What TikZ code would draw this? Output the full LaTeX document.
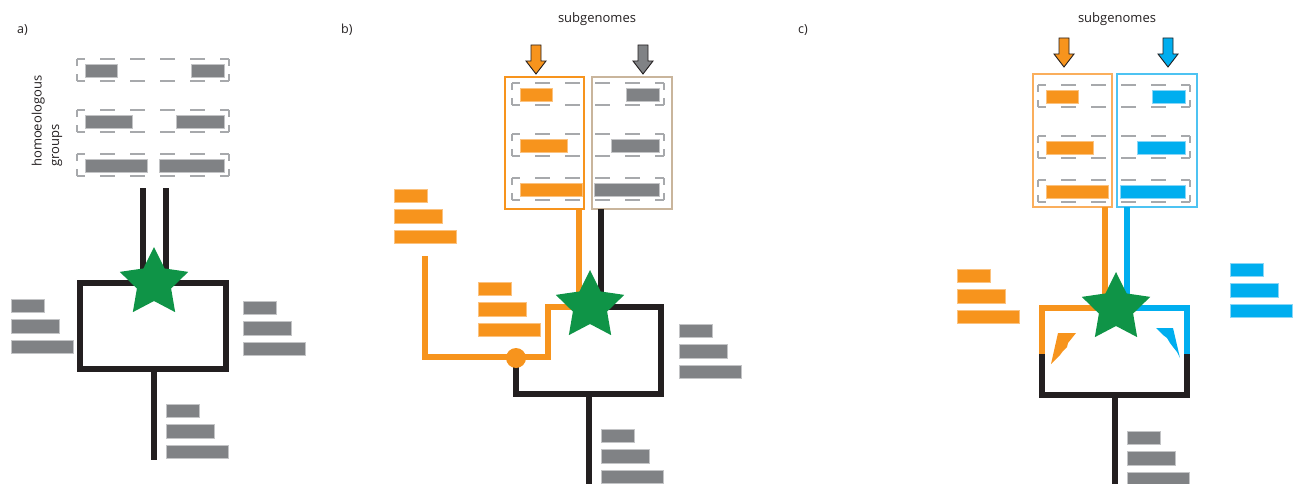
\documentclass[tikz,border=0pt]{standalone}
\usepackage{fontspec}
\setmainfont{Open Sans}
\usetikzlibrary{shapes.geometric}

\definecolor{ink}{HTML}{231F20}
\definecolor{chromgray}{HTML}{808285}
\definecolor{grayrim}{HTML}{C3C4C6}
\definecolor{sgorange}{HTML}{F7941D}
\definecolor{orangerim}{HTML}{FBC27F}
\definecolor{sgblue}{HTML}{00AEEF}
\definecolor{bluerim}{HTML}{8AD6F6}
\definecolor{wgdgreen}{HTML}{0F9447}
\definecolor{dashgray}{HTML}{A7A9AC}
\definecolor{framebrown}{HTML}{C9B59C}
\definecolor{frameorange}{HTML}{FAAE5C}
\definecolor{frameblue}{HTML}{4DC3F2}

\tikzset{
  lineage/.style={line width=6pt, line join=miter, line cap=butt},
  wgd/.style={star, star points=5, star point ratio=2.0, minimum size=72pt,
    inner sep=0pt, fill=wgdgreen, draw=none},
  hgdash/.style={dashgray, line width=1.3pt, dash pattern=on 15pt off 15pt, dash phase=7pt},
  hgarm/.style={dashgray, line width=1.3pt},
  sgframe/.style={line width=1.5pt},
  panellabel/.style={text=ink, inner sep=0pt, font=\fontsize{12.5}{15}\selectfont},
  caption/.style={text=ink, inner sep=0pt, font=\fontsize{13}{17.5}\selectfont},
}

% three stacked chromosome bars, top-left corner at (#1,#2)
\newcommand\barstack[4]{%
  \foreach \w [count=\k from 0] in {33,48,62}
    \filldraw[fill=#3, draw=#4, line width=0.8pt] (#1,{#2+20.5*\k}) rectangle ++(\w,13.5);}

% dashed frame of one homoeologous group
\newcommand\hgframe[2]{%
  \draw[hgdash] (#1,#2) -- ++(152,0);
  \draw[hgdash] (#1,{#2+22}) -- ++(152,0);
  \draw[hgarm] (#1,#2) -- ++(0,7) (#1,{#2+22}) -- ++(0,-7)
    ({#1+152},#2) -- ++(0,7) ({#1+152},{#2+22}) -- ++(0,-7);}

% three homoeologous groups, left and right copies
\newcommand\homoeoset[6]{%
  \foreach \dy/\wl/\wr in {0/32/33,51/47/48,95/62/65}{%
    \hgframe{#1}{#2+\dy}
    \filldraw[fill=#3, draw=#4, line width=.8pt] ({#1+8},{#2+\dy+5}) rectangle ++(\wl,13.5);
    \filldraw[fill=#5, draw=#6, line width=.8pt] ({#1+147},{#2+\dy+5}) rectangle ++(-\wr,13.5);}}

% downward block arrow marking a subgenome
\newcommand\sgarrow[3]{%
  \filldraw[fill=#3, draw=ink, line width=.9pt, line join=miter]
    ({#1-5},#2) -- ({#1+5},#2) -- ({#1+5},{#2+16}) -- ({#1+10},{#2+16})
    -- (#1,{#2+29}) -- ({#1-10},{#2+16}) -- ({#1-5},{#2+16}) -- cycle;}

\begin{document}
\begin{tikzpicture}[x=1pt,y=-1pt]
\useasboundingbox (0,0) rectangle (1295,484);

% ---------------- a) ----------------
\node[panellabel, anchor=base west] (lab-a) at (17,34) {a)};
\node[caption, rotate=90, align=left, anchor=west] (hg-text) at (47,167) {homoeologous\\groups};
\homoeoset{77}{59}{chromgray}{grayrim}{chromgray}{grayrim}

\coordinate (a-l1) at (143,188); \coordinate (a-l2) at (143,283);
\coordinate (a-r1) at (166,188); \coordinate (a-r2) at (166,283);
\coordinate (a-tl) at (80,283);  \coordinate (a-br) at (226,369);
\coordinate (a-root1) at (154,369); \coordinate (a-root2) at (154,460);
\draw[lineage, ink] (a-l1) -- (a-l2) (a-r1) -- (a-r2);
\draw[lineage, ink] (a-tl) rectangle (a-br);
\draw[lineage, ink] (a-root1) -- (a-root2);
\node[wgd] (a-star) at (154,283) {};

\barstack{11}{299}{chromgray}{grayrim}
\barstack{243}{301}{chromgray}{grayrim}
\barstack{166}{404}{chromgray}{grayrim}

% ---------------- b) ----------------
\node[panellabel, anchor=base west] (lab-b) at (341,34) {b)};
\node[caption, anchor=base] (sg-b) at (597,23) {subgenomes};
\sgarrow{536}{45}{sgorange}
\sgarrow{643}{45}{chromgray}
\draw[sgframe, sgorange] (505,77) rectangle (584,209);
\draw[sgframe, framebrown] (592,77) rectangle (672,209);
\homoeoset{512}{83}{sgorange}{orangerim}{chromgray}{grayrim}

\coordinate (b-k1) at (601,209); \coordinate (b-k2) at (601,307);
\coordinate (b-k3) at (661,307); \coordinate (b-k4) at (661,393.5);
\coordinate (b-k5) at (516,393.5); \coordinate (b-node) at (516,358);
\coordinate (b-root1) at (589,393.5); \coordinate (b-root2) at (589,484);
\coordinate (b-o1) at (579,209); \coordinate (b-o2) at (579,307);
\coordinate (b-o3) at (548,307); \coordinate (b-o4) at (548,357);
\coordinate (b-o5) at (425,357); \coordinate (b-o6) at (425,256);
\draw[lineage, ink] (b-k1) -- (b-k2) -- (b-k3) -- (b-k4) -- (b-k5) -- (b-node);
\draw[lineage, ink] (b-root1) -- (b-root2);
\draw[lineage, sgorange] (b-o1) -- (b-o2) -- (b-o3) -- (b-o4) -- (b-o5) -- (b-o6);
\fill[sgorange] (b-node) circle (10);
\node[wgd] (b-star) at (590,306) {};

\barstack{394}{189}{sgorange}{orangerim}
\barstack{478}{282}{sgorange}{orangerim}
\barstack{679}{324}{chromgray}{grayrim}
\barstack{601}{429}{chromgray}{grayrim}

% ---------------- c) ----------------
\node[panellabel, anchor=base west] (lab-c) at (798,34) {c)};
\node[caption, anchor=base] (sg-c) at (1117,23) {subgenomes};
\sgarrow{1064}{38}{sgorange}
\sgarrow{1168}{38}{sgblue}
\draw[sgframe, frameorange] (1033,74) rectangle (1112,207);
\draw[sgframe, frameblue] (1117,74) rectangle (1197,207);
\homoeoset{1038}{85}{sgorange}{orangerim}{sgblue}{bluerim}

\coordinate (c-o1) at (1105,207); \coordinate (c-o2) at (1105,308);
\coordinate (c-o3) at (1042,308); \coordinate (c-o4) at (1042,354);
\coordinate (c-k1) at (1042,395); \coordinate (c-k2) at (1187,395);
\coordinate (c-b4) at (1187,354); \coordinate (c-b3) at (1187,308);
\coordinate (c-b2) at (1127,308); \coordinate (c-b1) at (1127,207);
\coordinate (c-root1) at (1115,395); \coordinate (c-root2) at (1115,484);
\draw[lineage, ink] (c-o4) -- (c-k1) -- (c-k2) -- (c-b4);
\draw[lineage, ink] (c-root1) -- (c-root2);
\draw[lineage, sgorange] (c-o1) -- (c-o2) -- (c-o3) -- (c-o4);
\draw[lineage, sgblue] (c-b1) -- (c-b2) -- (c-b3) -- (c-b4);
\node[wgd] (c-star) at (1116,308) {};

% fractionation marks
\fill[sgorange] (1058,333) -- (1076,333) -- (1068,343) -- (1067,347) -- (1063,351)
  -- (1060,355) -- (1055,360) -- (1051,364) -- cycle;
\fill[sgblue] (1156,328) -- (1173,328) -- (1180,358) -- (1177,352) -- (1173,347)
  -- (1170,343) -- (1167,338) -- (1163,335) -- cycle;

\barstack{957}{269}{sgorange}{orangerim}
\barstack{1230}{263}{sgblue}{bluerim}
\barstack{1127}{431}{chromgray}{grayrim}
\end{tikzpicture}
\end{document}
